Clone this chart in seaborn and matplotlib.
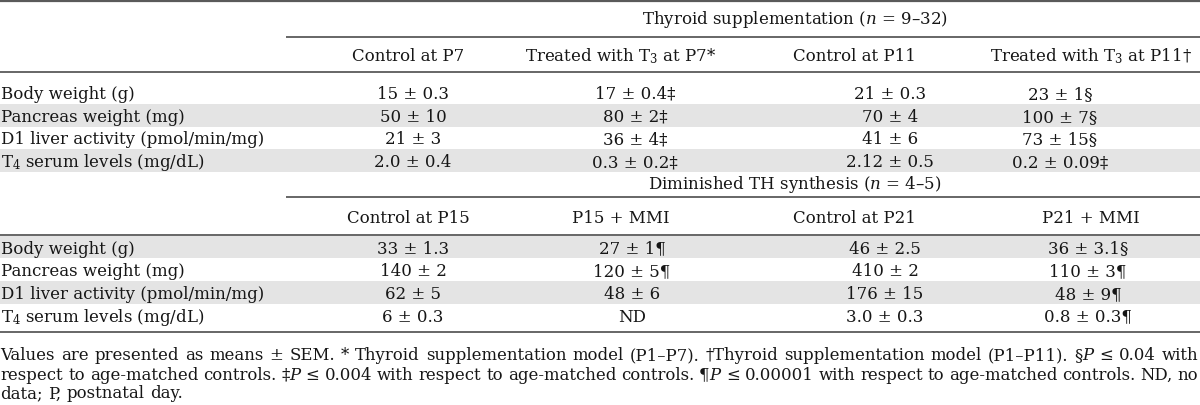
import matplotlib
matplotlib.use("Agg")
import matplotlib.pyplot as plt
import seaborn as sns

sns.set_theme(style="white")
plt.rcParams["font.family"] = ["DejaVu Serif"]
plt.rcParams["mathtext.fontset"] = "dejavuserif"

# ---- table content ----
row_labels = [
    "Body weight (g)",
    "Pancreas weight (mg)",
    "D1 liver activity (pmol/min/mg)",
    "T$_4$ serum levels (mg/dL)",
]

supp_title = "Thyroid supplementation ($n$ = 9–32)"
supp_headers = ["Control at P7", "Treated with T$_3$ at P7*",
                "Control at P11", "Treated with T$_3$ at P11†"]
ctrl_p7 = ["15 ± 0.3", "50 ± 10", "21 ± 3", "2.0 ± 0.4"]
t3_p7 = ["17 ± 0.4‡", "80 ± 2‡", "36 ± 4‡", "0.3 ± 0.2‡"]
ctrl_p11 = ["21 ± 0.3", "70 ± 4", "41 ± 6", "2.12 ± 0.5"]
t3_p11 = ["23 ± 1§", "100 ± 7§", "73 ± 15§", "0.2 ± 0.09‡"]

mmi_title = "Diminished TH synthesis ($n$ = 4–5)"
mmi_headers = ["Control at P15", "P15 + MMI", "Control at P21", "P21 + MMI"]
ctrl_p15 = ["33 ± 1.3", "140 ± 2", "62 ± 5", "6 ± 0.3"]
mmi_p15 = ["27 ± 1¶", "120 ± 5¶", "48 ± 6", "ND"]
ctrl_p21 = ["46 ± 2.5", "410 ± 2", "176 ± 15", "3.0 ± 0.3"]
mmi_p21 = ["36 ± 3.1§", "110 ± 3¶", "48 ± 9¶", "0.8 ± 0.3¶"]

footnote = [
    "Values are presented as means ± SEM. * Thyroid supplementation model (P1–P7). "
    "†Thyroid supplementation model (P1–P11). §{P} ≤ 0.04 with",
    "respect to age-matched controls. ‡{P} ≤ 0.004 with respect to age-matched "
    "controls. ¶{P} ≤ 0.00001 with respect to age-matched controls. ND, no",
    "data; P, postnatal day.",
]

# ---- layout (pixels) ----
W, H = 1200, 405
FS = 12
INK = "#161616"
RULE = "#5a5a5a"
SHADE = "#e4e4e4"
head_x = [408, 621, 854, 1091]
row_step = 22.67

fig = plt.figure(figsize=(W / 100, H / 100), dpi=100)
ax = fig.add_axes([0, 0, 1, 1])
ax.set_xlim(0, W)
ax.set_ylim(H, 0)
ax.axis("off")


def rule(y, x0=0, lw=1.3):
    ax.plot([x0, W], [y, y], color=RULE, lw=lw, solid_capstyle="butt")


def draw_block(title, title_y, headers, head_y, columns, val_x, first_row, shaded):
    ax.text(795, title_y, title, ha="center", va="baseline", fontsize=FS, color=INK)
    for x, h in zip(head_x, headers):
        ax.text(x, head_y, h, ha="center", va="baseline", fontsize=FS, color=INK)
    for i, label in enumerate(row_labels):
        yc = first_row + i * row_step
        if i in shaded:
            ax.axhspan(yc - row_step / 2, yc + row_step / 2, color=SHADE, lw=0, zorder=0)
        ax.text(1, yc + 6.5, label, ha="left", va="baseline", fontsize=FS, color=INK)
        for x, col in zip(val_x, columns):
            ax.text(x, yc + 6.5, col[i], ha="center", va="baseline", fontsize=FS, color=INK)


draw_block(supp_title, 24, supp_headers, 61,
           [ctrl_p7, t3_p7, ctrl_p11, t3_p11], [413, 635, 890, 1060],
           92.5, shaded={1, 3})
draw_block(mmi_title, 189, mmi_headers, 223,
           [ctrl_p15, mmi_p15, ctrl_p21, mmi_p21], [413, 632, 885, 1088],
           247.0, shaded={0, 2})

rule(1, lw=1.6)
rule(37, x0=286)
rule(72)
rule(197, x0=286)
rule(235)
rule(332)

# ---- footnote, first two lines justified ----
renderer = fig.canvas.get_renderer()


def parse_word(word):
    runs = []
    buf = ""
    italic = False
    for ch in word:
        if ch in "{}":
            if buf:
                runs.append((buf, italic))
            buf = ""
            italic = ch == "{"
        else:
            buf += ch
    if buf:
        runs.append((buf, italic))
    return runs


def foot_line(text, y, justify, fs=11.9):
    words = []
    space = ax.text(0, y, "a a", fontsize=fs)
    one = ax.text(0, y, "aa", fontsize=fs)
    sp_w = space.get_window_extent(renderer).width - one.get_window_extent(renderer).width
    space.remove()
    one.remove()
    for w in text.split(" "):
        arts = []
        for s, it in parse_word(w):
            t = ax.text(0, y, s, fontsize=fs, color=INK, va="baseline", ha="left",
                        style="italic" if it else "normal")
            arts.append((t, t.get_window_extent(renderer).width))
        words.append(arts)
    widths = [sum(a[1] for a in arts) for arts in words]
    gap = (W - 2 - sum(widths)) / (len(words) - 1) if justify else sp_w
    x = 0.5
    for arts, wd in zip(words, widths):
        cx = x
        for t, tw in arts:
            t.set_x(cx)
            cx += tw
        x += wd + gap


foot_line(footnote[0], 360, True)
foot_line(footnote[1], 379.5, True)
foot_line(footnote[2], 398.5, False)

fig.savefig("out.png", dpi=100)
